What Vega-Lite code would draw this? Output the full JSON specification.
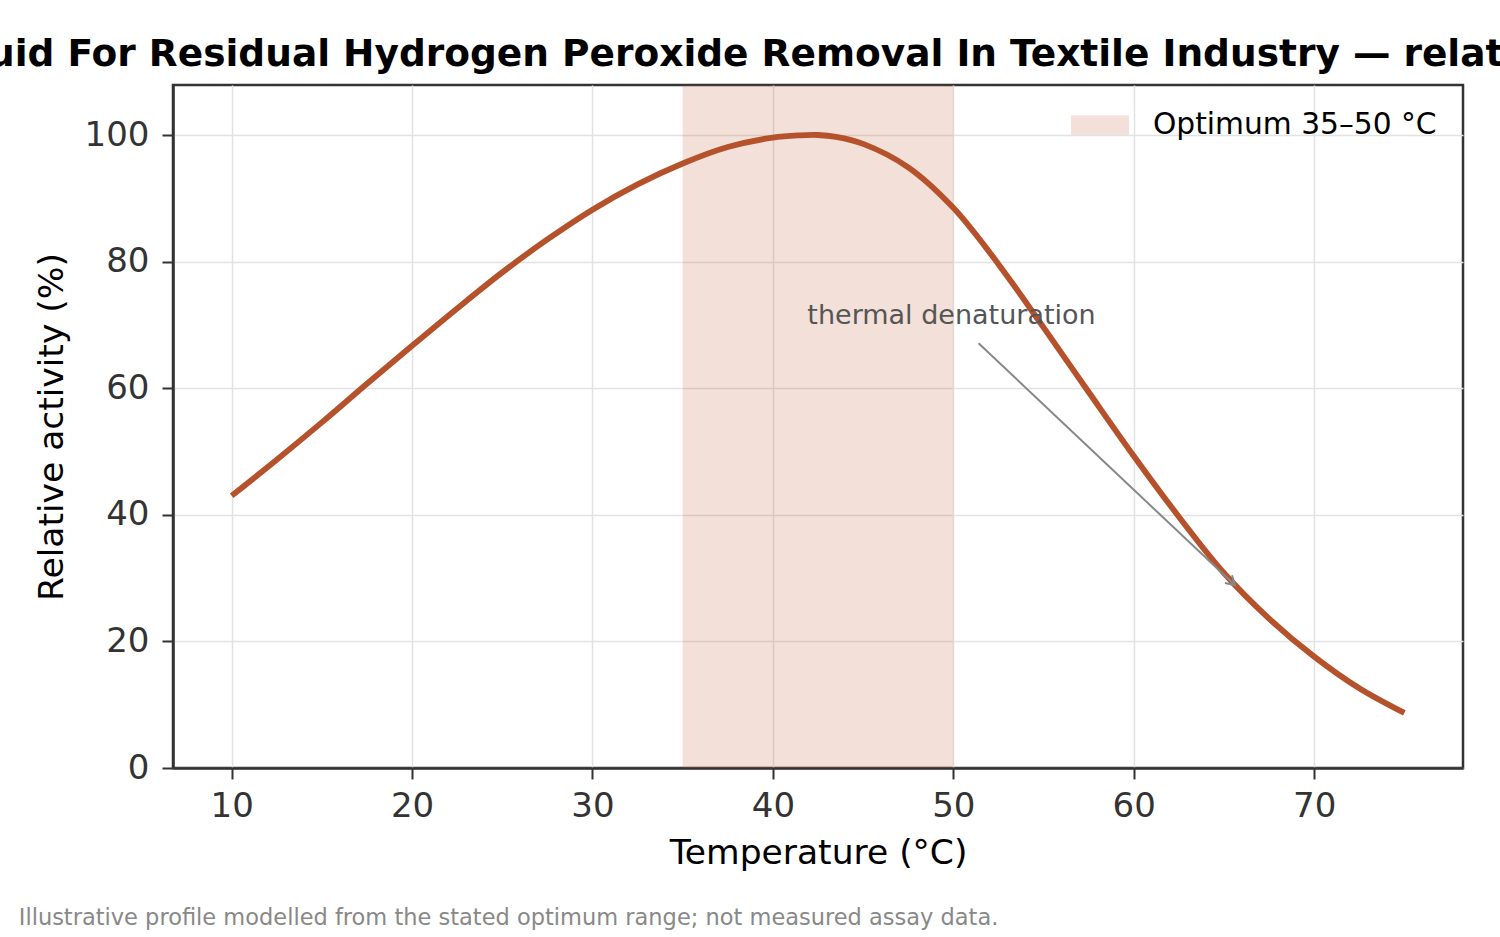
{
  "$schema": "https://vega.github.io/schema/vega-lite/v6.json",
  "autosize": "none",
  "width": 1290,
  "height": 683,
  "padding": {"left": 173, "top": 85, "right": 37, "bottom": 169},
  "background": "white",
  "title": {
    "text": "uid For Residual Hydrogen Peroxide Removal In Textile Industry — relat",
    "anchor": "start",
    "frame": "group",
    "dx": -185,
    "offset": 12,
    "font": "DejaVu Sans",
    "fontSize": 37.5,
    "fontWeight": "bold",
    "color": "#000000",
    "limit": 0
  },
  "config": {
    "font": "DejaVu Sans",
    "view": {"stroke": "#333333", "strokeWidth": 2.5},
    "axis": {
      "gridColor": "#e2e2e2",
      "gridWidth": 1.5,
      "domainColor": "#333333",
      "domainWidth": 2.5,
      "tickColor": "#333333",
      "tickWidth": 2,
      "tickSize": 11,
      "labelFont": "DejaVu Sans",
      "labelFontSize": 34,
      "labelColor": "#333333",
      "titleFont": "DejaVu Sans",
      "titleFontSize": 34.5,
      "titleFontWeight": "normal",
      "titleColor": "#000000"
    }
  },
  "datasets": {
    "curve": [
      {"temp": 10, "activity": 43.0},
      {"temp": 12.5, "activity": 48.7},
      {"temp": 15, "activity": 54.6},
      {"temp": 17.5, "activity": 60.7},
      {"temp": 20, "activity": 66.7},
      {"temp": 22.5, "activity": 72.6},
      {"temp": 25, "activity": 78.3},
      {"temp": 27.5, "activity": 83.5},
      {"temp": 30, "activity": 88.2},
      {"temp": 32.5, "activity": 92.2},
      {"temp": 35, "activity": 95.5},
      {"temp": 37.5, "activity": 98.1},
      {"temp": 40, "activity": 99.6},
      {"temp": 41.5, "activity": 99.95},
      {"temp": 42.5, "activity": 100},
      {"temp": 43.5, "activity": 99.7},
      {"temp": 45, "activity": 98.6},
      {"temp": 47.5, "activity": 94.9},
      {"temp": 50, "activity": 88.5},
      {"temp": 52.5, "activity": 79.6},
      {"temp": 55, "activity": 69.6},
      {"temp": 57.5, "activity": 59.4},
      {"temp": 60, "activity": 49.3},
      {"temp": 62.5, "activity": 39.7},
      {"temp": 65, "activity": 30.8},
      {"temp": 67.5, "activity": 23.6},
      {"temp": 70, "activity": 17.6},
      {"temp": 72.5, "activity": 12.6},
      {"temp": 75, "activity": 8.7}
    ],
    "band": [{"lo": 35, "hi": 50, "label": "Optimum 35–50 °C"}],
    "note": [{"temp": 49.9, "activity": 71.4, "text": "thermal denaturation"}],
    "arrow": [{"x0": 51.4, "y0": 67.1, "x1": 65.6, "y1": 28.9}],
    "footer": [{"text": "Illustrative profile modelled from the stated optimum range; not measured assay data."}]
  },
  "layer": [
    {
      "data": {"name": "band"},
      "mark": {"type": "rect", "opacity": 0.18},
      "encoding": {
        "x": {
          "field": "lo", "type": "quantitative",
          "scale": {"domain": [6.75, 78.25], "nice": false, "zero": false},
          "axis": {"values": [10, 20, 30, 40, 50, 60, 70], "title": "Temperature (°C)", "labelPadding": 10, "titlePadding": 13}
        },
        "x2": {"field": "hi"},
        "color": {
          "field": "label", "type": "nominal",
          "scale": {"range": ["#b5522b"]},
          "legend": {
            "title": null,
            "orient": "none",
            "legendX": 898,
            "legendY": 11,
            "symbolType": "M-1,-0.34H1V0.34H-1Z",
            "symbolSize": 3364,
            "symbolStrokeWidth": 0,
            "labelFont": "DejaVu Sans",
            "labelFontSize": 29.7,
            "labelColor": "#000000",
            "labelOffset": 24,
            "labelLimit": 0
          }
        }
      }
    },
    {
      "data": {"name": "curve"},
      "mark": {"type": "line", "color": "#b5522b", "strokeWidth": 5.8, "interpolate": "catmull-rom"},
      "encoding": {
        "x": {"field": "temp", "type": "quantitative"},
        "y": {
          "field": "activity", "type": "quantitative",
          "scale": {"domain": [0, 107.9], "nice": false},
          "axis": {"values": [0, 20, 40, 60, 80, 100], "title": "Relative activity (%)", "labelPadding": 13, "titlePadding": 15}
        }
      }
    },
    {
      "data": {"name": "arrow"},
      "mark": {"type": "rule", "color": "#888888", "strokeWidth": 2},
      "encoding": {
        "x": {"field": "x0", "type": "quantitative"},
        "y": {"field": "y0", "type": "quantitative"},
        "x2": {"field": "x1"},
        "y2": {"field": "y1"}
      }
    },
    {
      "data": {"name": "arrow"},
      "mark": {"type": "point", "shape": "M-1,-0.6L0,0L-1,0.6", "filled": false, "stroke": "#888888", "strokeWidth": 2, "size": 300, "angle": 43.3, "opacity": 1},
      "encoding": {
        "x": {"field": "x1", "type": "quantitative"},
        "y": {"field": "y1", "type": "quantitative"}
      }
    },
    {
      "data": {"name": "note"},
      "mark": {"type": "text", "font": "DejaVu Sans", "fontSize": 27, "color": "#555555", "align": "center", "baseline": "middle"},
      "encoding": {
        "x": {"field": "temp", "type": "quantitative"},
        "y": {"field": "activity", "type": "quantitative"},
        "text": {"field": "text"}
      }
    },
    {
      "data": {"name": "footer"},
      "mark": {"type": "text", "font": "DejaVu Sans", "fontSize": 22.5, "color": "#888888", "align": "left", "baseline": "middle", "clip": false},
      "encoding": {
        "x": {"datum": -1.8, "type": "quantitative"},
        "y": {"datum": -23.7, "type": "quantitative"},
        "text": {"field": "text"}
      }
    }
  ]
}
